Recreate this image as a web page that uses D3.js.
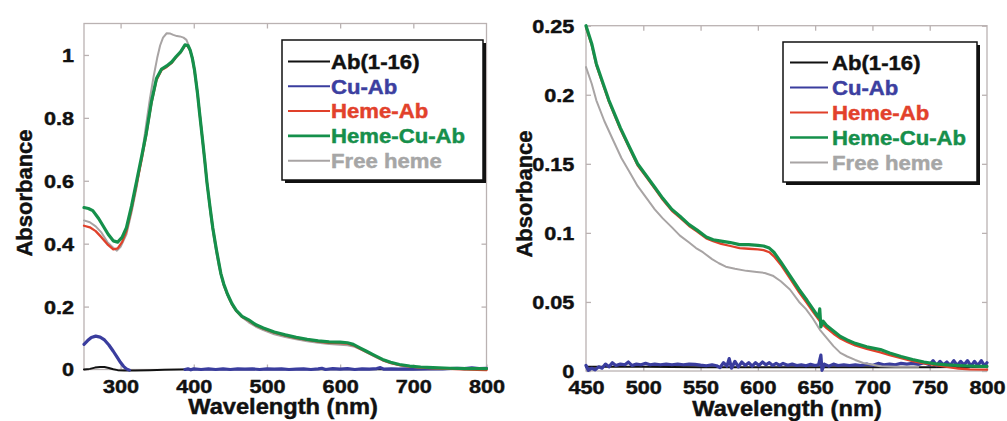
<!DOCTYPE html>
<html>
<head>
<meta charset="utf-8">
<script src="https://cdn.jsdelivr.net/npm/d3@7"></script>
<style>
  html, body { margin: 0; padding: 0; background: #fff; }
  svg { display: block; }
  text { font-family: "Liberation Sans", Arial, Helvetica, sans-serif; font-weight: bold; }
</style>
</head>
<body>
<svg id="chart" width="1007" height="421"></svg>
<script>
// ---------------- DATA ----------------
const seriesNames = ["Ab(1-16)", "Cu-Ab", "Heme-Ab", "Heme-Cu-Ab", "Free heme"];

const leftXTicks = [300, 400, 500, 600, 700, 800];
const leftYTicks = [0, 0.2, 0.4, 0.6, 0.8, 1];
const rightXTicks = [450, 500, 550, 600, 650, 700, 750, 800];
const rightYTicks = [0, 0.05, 0.1, 0.15, 0.2, 0.25];

// Left panel (full spectrum)
const leftAb = [[250,0.0],[258,0.002],[265,0.006],[272,0.008],[278,0.008],[284,0.005],[290,0.001],[296,-0.002],[305,-0.003],[320,-0.003],[340,-0.002],[360,-0.001],[380,0.0],[400,0.001],[500,0.001],[600,0.001],[700,0.001],[800,0.002]];
const leftCuAb = [[250,0.08],[255,0.092],[260,0.102],[266,0.106],[272,0.103],[278,0.094],[284,0.078],[290,0.058],[295,0.04],[300,0.022],[304,0.01],[308,0.002],[312,-0.002],[316,null],
  [388,0.0],[392,0.002],[396,-0.001],[400,0.002],[410,0.0],[420,0.002],[430,0.0],[440,0.002],[450,0.0],[460,0.002],[470,0.001],[480,0.002],[490,0.0],[500,0.002],[510,0.001],[520,0.002],[530,0.0],[540,0.001],[550,0.002],[560,0.0],[570,0.002],[575,0.004],[580,0.0],[590,0.003],[600,0.001],[610,0.003],[620,0.0],[630,0.002],[640,0.001],[650,0.003],[655,0.006],[660,0.001],[670,0.002],[680,0.001],[690,0.002],[700,0.001],[720,0.002],[740,0.002],[760,0.004],[770,0.003],[780,0.005],[790,0.003],[800,0.004]];
const leftHemeAb = [[250,0.457],[258,0.452],[266,0.44],[274,0.42],[282,0.398],[290,0.382],[296,0.385],[302,0.405],[308,0.44],[315,0.51],[322,0.59],[329,0.67],[335,0.745],[342,0.845],[349,0.92],[356,0.952],[363,0.962],[370,0.975],[376,0.993],[382,1.008],[388,1.03],[392,1.028],[395,1.014],[398,0.99],[401,0.95],[405,0.88],[408,0.814],[412,0.73],[415,0.665],[418,0.595],[422,0.52],[426,0.45],[431,0.38],[437,0.305],[441,0.27],[446,0.238],[452,0.208],[458,0.186],[466,0.167],[475,0.156],[485,0.14],[495,0.13],[510,0.117],[525,0.108],[540,0.1],[555,0.094],[570,0.089],[585,0.085],[600,0.084],[610,0.082],[618,0.077],[627,0.066],[636,0.056],[647,0.043],[658,0.03],[669,0.021],[681,0.014],[695,0.009],[710,0.006],[727,0.004],[750,0.002],[775,0.0],[800,-0.002]];
const leftHemeCuAb = [[250,0.515],[256,0.512],[262,0.505],[270,0.48],[276,0.457],[283,0.43],[290,0.409],[296,0.405],[302,0.42],[308,0.451],[315,0.52],[322,0.6],[329,0.68],[335,0.75],[342,0.85],[349,0.925],[356,0.955],[363,0.965],[370,0.978],[376,0.995],[382,1.01],[388,1.032],[392,1.03],[395,1.016],[398,0.99],[401,0.952],[405,0.88],[408,0.814],[412,0.73],[415,0.665],[418,0.595],[422,0.52],[426,0.45],[431,0.38],[437,0.305],[441,0.272],[446,0.24],[452,0.21],[458,0.188],[466,0.169],[475,0.158],[485,0.142],[495,0.132],[510,0.119],[525,0.11],[540,0.102],[555,0.096],[570,0.091],[585,0.088],[600,0.087],[610,0.085],[618,0.08],[627,0.069],[636,0.058],[647,0.045],[658,0.032],[669,0.023],[681,0.016],[695,0.011],[710,0.008],[727,0.006],[750,0.004],[775,0.003],[800,0.003]];
const leftFreeHeme = [[250,0.474],[258,0.468],[266,0.455],[274,0.435],[282,0.405],[290,0.387],[295,0.378],[300,0.39],[308,0.43],[315,0.5],[322,0.58],[329,0.68],[335,0.78],[340,0.86],[345,0.93],[350,0.99],[354,1.03],[358,1.055],[363,1.069],[368,1.068],[372,1.064],[377,1.06],[381,1.059],[386,1.055],[390,1.048],[394,1.025],[399,0.984],[403,0.92],[407,0.84],[411,0.75],[415,0.66],[419,0.575],[423,0.49],[428,0.41],[434,0.33],[441,0.265],[448,0.225],[455,0.195],[465,0.168],[475,0.15],[485,0.136],[495,0.125],[510,0.112],[525,0.103],[540,0.096],[555,0.09],[570,0.085],[585,0.081],[600,0.079],[610,0.077],[620,0.072],[630,0.062],[640,0.05],[650,0.038],[660,0.027],[670,0.019],[685,0.012],[700,0.008],[720,0.005],[750,0.003],[800,0.002]];

// Right panel (zoom 450-800 nm)
const rightAb = [[450,0.003],[500,0.003],[550,0.0028],[600,0.0027],[650,0.0027],[700,0.0027],[750,0.0028],[800,0.003]];
const rightCuAb = [[450,0.004],[452,0.0005],[455,0.002],[458,0.0008],[461,0.003],[464,0.002],[467,0.005],[470,0.003],[473,0.006],[476,0.004],[480,0.005],[484,0.0045],[487,0.0065],[490,0.004],[494,0.005],[498,0.0045],[502,0.0055],[506,0.0045],[510,0.005],[515,0.0045],[520,0.005],[525,0.0045],[530,0.005],[535,0.0045],[540,0.005],[545,0.0048],[550,0.0042],[555,0.0038],[560,0.0045],[564,0.0038],[567,0.0025],[570,0.006],[573,0.0035],[575,0.009],[577,0.002],[580,0.007],[583,0.003],[586,0.0065],[589,0.004],[592,0.006],[595,0.0035],[598,0.006],[601,0.004],[604,0.0065],[607,0.0045],[610,0.006],[613,0.004],[616,0.0055],[619,0.004],[622,0.0055],[626,0.0042],[630,0.005],[634,0.004],[638,0.0045],[642,0.0038],[646,0.0048],[650,0.004],[653,0.0045],[655,0.0115],[656,0.0005],[658,0.005],[662,0.0035],[666,0.005],[670,0.004],[675,0.0045],[680,0.004],[685,0.0045],[690,0.004],[695,0.005],[700,0.004],[705,0.0055],[710,0.0045],[715,0.005],[720,0.0045],[725,0.0055],[730,0.005],[735,0.0055],[740,0.0048],[745,0.006],[750,0.0045],[753,0.0075],[756,0.004],[759,0.007],[762,0.0045],[765,0.0065],[768,0.004],[771,0.0075],[774,0.004],[777,0.007],[780,0.0045],[783,0.0075],[786,0.0035],[789,0.007],[792,0.004],[795,0.0075],[798,0.0035],[800,0.006]];
const rightHemeAb = [[450,0.249],[455,0.236],[459,0.2215],[465,0.207],[470,0.195],[474,0.187],[480,0.175],[488,0.161],[495,0.149],[503,0.14],[510,0.132],[517,0.124],[525,0.116],[532,0.111],[540,0.105],[547,0.101],[555,0.096],[561,0.094],[568,0.092],[576,0.0905],[584,0.089],[592,0.0885],[600,0.088],[605,0.0875],[610,0.086],[614,0.083],[620,0.077],[628,0.067],[636,0.057],[643,0.049],[648,0.043],[655,0.035],[660,0.031],[666,0.027],[672,0.0235],[678,0.021],[685,0.0185],[695,0.016],[707,0.0135],[715,0.0115],[725,0.0093],[735,0.0072],[745,0.0055],[755,0.0042],[765,0.003],[775,0.0018],[785,0.0012],[800,0.001]];
const rightHemeCuAb = [[450,0.25],[455,0.237],[459,0.2225],[465,0.208],[470,0.196],[474,0.188],[480,0.176],[488,0.162],[495,0.15],[503,0.141],[510,0.133],[517,0.125],[525,0.117],[532,0.112],[540,0.106],[547,0.102],[555,0.097],[561,0.095],[568,0.094],[576,0.093],[584,0.0915],[592,0.0915],[600,0.091],[605,0.0905],[610,0.089],[614,0.086],[620,0.079],[628,0.069],[636,0.059],[643,0.051],[648,0.045],[652,0.04],[653,0.039],[654,0.045],[655,0.032],[657,0.036],[660,0.033],[666,0.029],[672,0.025],[678,0.0225],[685,0.02],[695,0.0175],[707,0.0155],[715,0.013],[725,0.0105],[735,0.0083],[745,0.0065],[755,0.0052],[765,0.0045],[780,0.0038],[794,0.0034],[800,0.0034]];
const rightFreeHeme = [[450,0.22],[455,0.208],[459,0.196],[466,0.181],[474,0.1665],[481,0.154],[488,0.144],[495,0.134],[503,0.125],[510,0.117],[517,0.1105],[525,0.104],[532,0.098],[540,0.093],[546,0.089],[552,0.086],[560,0.081],[566,0.078],[572,0.0755],[580,0.074],[590,0.0725],[599,0.0716],[606,0.071],[613,0.069],[620,0.065],[628,0.059],[636,0.05],[642,0.0448],[648,0.038],[654,0.03],[660,0.024],[666,0.018],[672,0.0131],[678,0.0105],[685,0.008],[692,0.0058],[700,0.0045],[707,0.0034],[720,0.003],[740,0.003]];

const seriesColors = ["#111111", "#3a3d9e", "#e0402a", "#15904b", "#a8a4a4"];
const legendTextColors = ["#111111", "#3c3fa0", "#e2412b", "#168f4b", "#a6a6a6"];
const lineWidths = [2, 3.2, 2.3, 3.2, 2];

// ---------------- DRAW ----------------
const svg = d3.select("#chart");
svg.append("rect").attr("width", 1007).attr("height", 421).attr("fill", "#fff");

const frameColor = "#bab2b2";
const tickScaleX = 1.17;

function tickFmt(d) { return String(+d.toFixed(2)); }

function boldify(sel, color) {
  sel.attr("stroke", color).attr("stroke-width", 0.45).attr("paint-order", "stroke");
}

function panel(cfg) {
  const x = d3.scaleLinear().domain(cfg.xDomain).range(cfg.xRange);
  const y = d3.scaleLinear().domain(cfg.yDomain).range(cfg.yRange);
  const g = svg.append("g");
  const [x0, x1] = cfg.xRange, [yb, yt] = cfg.yRange;

  // frame
  g.append("rect").attr("x", x0).attr("y", yt).attr("width", x1 - x0).attr("height", yb - yt)
    .attr("fill", "none").attr("stroke", frameColor).attr("stroke-width", 1.3);

  function styleAxis(sel) {
    sel.select(".domain").remove();
    sel.selectAll(".tick line").attr("stroke", frameColor).attr("stroke-width", 1.3);
    sel.selectAll(".tick text").attr("fill", "#111").attr("font-size", 18.5)
      .attr("font-family", "Liberation Sans, Arial, sans-serif").attr("font-weight", "bold");
    boldify(sel.selectAll(".tick text"), "#111");
  }
  // bottom axis with labels
  const bx = g.append("g").attr("transform", `translate(0,${yb})`)
    .call(d3.axisBottom(x).tickValues(cfg.xTicks).tickSize(-5).tickPadding(cfg.xPad).tickFormat(tickFmt));
  styleAxis(bx);
  bx.selectAll(".tick text").attr("transform", `scale(${tickScaleX},1)`).attr("x", 0);
  // left axis with labels
  const ly = g.append("g").attr("transform", `translate(${x0},0)`)
    .call(d3.axisLeft(y).tickValues(cfg.yTicks).tickSize(-5).tickPadding(cfg.yPad).tickFormat(tickFmt));
  styleAxis(ly);
  ly.selectAll(".tick text").attr("transform", `scale(${tickScaleX},1)`).attr("dy", "0.35em");
  // mirrored ticks
  const tx = g.append("g").attr("transform", `translate(0,${yt})`)
    .call(d3.axisTop(x).tickValues(cfg.xTicks.filter(v => v < cfg.xDomain[1])).tickSize(-5).tickFormat(""));
  styleAxis(tx);
  const ry = g.append("g").attr("transform", `translate(${x1},0)`)
    .call(d3.axisRight(y).tickValues(cfg.yTicks).tickSize(-5).tickFormat(""));
  styleAxis(ry);

  // axis titles
  const xt = g.append("g").attr("transform", `translate(${cfg.xTitle[0]},${cfg.xTitle[1]}) scale(1.1,1)`)
    .append("text").attr("text-anchor", "middle").attr("font-size", 21.5).attr("fill", "#111")
    .text("Wavelength (nm)");
  boldify(xt, "#111");
  const yt2 = g.append("g").attr("transform", `translate(${cfg.yTitle[0]},${cfg.yTitle[1]}) rotate(-90)`)
    .append("text").attr("text-anchor", "middle").attr("font-size", 22).attr("fill", "#111")
    .text("Absorbance");
  boldify(yt2, "#111");

  // curves (draw order: black, blue, grey, red, green)
  const line = d3.line().defined(d => d[1] !== null).x(d => x(d[0])).y(d => y(d[1]));
  const order = [0, 1, 4, 2, 3];
  order.forEach(i => {
    g.append("path").datum(cfg.series[i]).attr("d", line)
      .attr("fill", "none").attr("stroke", seriesColors[i]).attr("stroke-width", lineWidths[i])
      .attr("stroke-linejoin", "round").attr("stroke-linecap", "round");
  });

  // legend
  const L = cfg.legend;
  g.append("rect").attr("x", L.x + 3).attr("y", L.y + 3).attr("width", L.w).attr("height", L.h).attr("fill", "#111");
  g.append("rect").attr("x", L.x).attr("y", L.y).attr("width", L.w).attr("height", L.h)
    .attr("fill", "#fff").attr("stroke", "#111").attr("stroke-width", 1.5);
  seriesNames.forEach((name, i) => {
    const ry0 = L.row0 + i * L.step;
    g.append("line").attr("x1", L.lx0).attr("x2", L.lx1).attr("y1", ry0).attr("y2", ry0)
      .attr("stroke", seriesColors[i]).attr("stroke-width", i === 3 ? 2.6 : 2);
    const t = g.append("g").attr("transform", `translate(${L.tx},${ry0}) scale(1.08,1)`)
      .append("text").attr("dy", "0.36em").attr("font-size", 20.5).attr("fill", legendTextColors[i]).text(name);
    boldify(t, legendTextColors[i]);
  });
}

panel({
  xDomain: [250, 800], xRange: [84, 486.5],
  yDomain: [0, 1.1], yRange: [369.5, 23.5],
  xTicks: leftXTicks, yTicks: leftYTicks, xPad: 10, yPad: 8.5,
  xTitle: [283, 414], yTitle: [32, 193],
  series: [leftAb, leftCuAb, leftHemeAb, leftHemeCuAb, leftFreeHeme],
  legend: { x: 282, y: 40, w: 201, h: 140, lx0: 288, lx1: 330, tx: 331, row0: 61.5, step: 24.8 }
});

panel({
  xDomain: [450, 800], xRange: [586, 987],
  yDomain: [0, 0.25], yRange: [371, 25.7],
  xTicks: rightXTicks, yTicks: rightYTicks, xPad: 10, yPad: 10,
  xTitle: [787, 416], yTitle: [532, 194],
  series: [rightAb, rightCuAb, rightHemeAb, rightHemeCuAb, rightFreeHeme],
  legend: { x: 783, y: 42, w: 194, h: 140, lx0: 790, lx1: 828, tx: 832, row0: 62.5, step: 25 }
});
</script>
</body>
</html>
